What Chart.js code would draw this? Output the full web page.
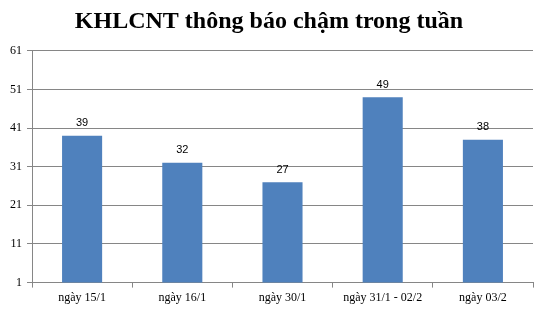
<!DOCTYPE html>
<html lang="vi">
<head>
    <meta charset="UTF-8">
    <title>KHLCNT thông báo chậm trong tuần</title>
    <style>
        html, body { margin: 0; padding: 0; background: #fff; }
        #wrap { width: 542px; height: 310px; }
    </style>
    <script src="https://cdn.jsdelivr.net/npm/chart.js"></script>
</head>
<body>
    <div id="wrap"><canvas id="chart"></canvas></div>
    <script>
        const labels = ["ngày 15/1", "ngày 16/1", "ngày 30/1", "ngày 31/1 - 02/2", "ngày 03/2"];
        const values = [39, 32, 27, 49, 38];
        const yTicks = [1, 11, 21, 31, 41, 51, 61];

        // nhãn giá trị phía trên cột
        const valueLabels = {
            id: "valueLabels",
            afterDatasetsDraw(chart) {
                const ctx = chart.ctx;
                const meta = chart.getDatasetMeta(0);
                ctx.save();
                ctx.font = "11px 'Liberation Sans', Arial, sans-serif";
                ctx.fillStyle = "#000";
                ctx.textAlign = "center";
                ctx.textBaseline = "bottom";
                meta.data.forEach((bar, i) => {
                    ctx.fillText(values[i], bar.x, bar.y - 7);
                });
                ctx.restore();
            }
        };

        new Chart(document.getElementById("chart"), {
            type: "bar",
            data: {
                labels: labels,
                datasets: [{
                    data: values,
                    backgroundColor: "#4F81BD",
                    barPercentage: 0.4,
                    categoryPercentage: 1
                }]
            },
            options: {
                responsive: true,
                maintainAspectRatio: false,
                animation: false,
                layout: { padding: { left: 5, right: 9, top: 0, bottom: 2 } },
                plugins: {
                    legend: { display: false },
                    tooltip: { enabled: false },
                    title: {
                        display: true,
                        text: "KHLCNT thông báo chậm trong tuần",
                        color: "#000",
                        font: { family: "'Liberation Serif', 'Times New Roman', serif", size: 24, weight: "bold" },
                        padding: { top: 7, bottom: 15 }
                    }
                },
                scales: {
                    x: {
                        grid: { drawOnChartArea: false, drawTicks: true, tickLength: 5, color: "#868686", offset: true },
                        border: { color: "#868686" },
                        ticks: {
                            color: "#000",
                            font: { family: "'Liberation Serif', 'Times New Roman', serif", size: 12 },
                            maxRotation: 0,
                            padding: 3
                        }
                    },
                    y: {
                        min: yTicks[0],
                        max: yTicks[yTicks.length - 1],
                        afterBuildTicks(axis) { axis.ticks = yTicks.map(v => ({ value: v })); },
                        grid: { color: "#868686", tickLength: 5 },
                        border: { color: "#868686" },
                        ticks: {
                            color: "#000",
                            font: { family: "'Liberation Serif', 'Times New Roman', serif", size: 12 },
                            padding: 5
                        }
                    }
                }
            },
            plugins: [valueLabels]
        });
    </script>
</body>
</html>
